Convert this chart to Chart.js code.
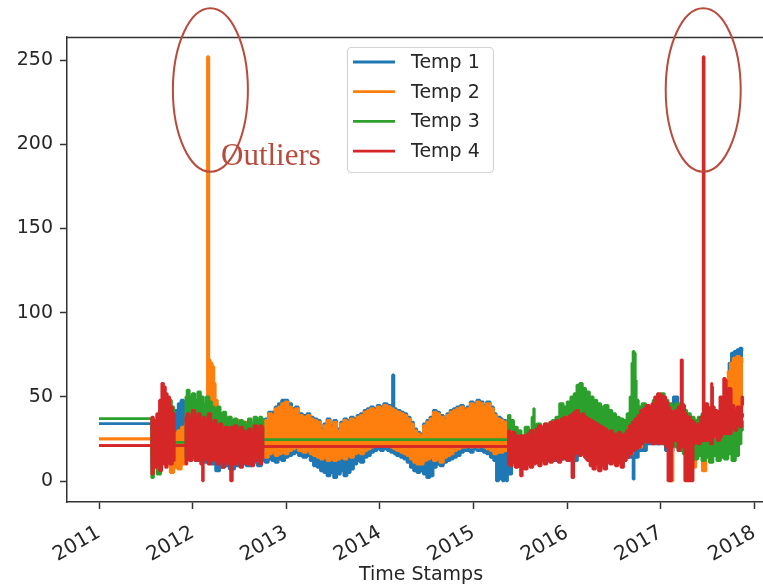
<!DOCTYPE html>
<html>
<head>
<meta charset="utf-8">
<style>
  * { margin: 0; padding: 0; box-sizing: border-box; }
  html, body { width: 763px; height: 587px; overflow: hidden; background: #fff; }
  .chartBox { width: 775px; height: 587px; }
</style>
</head>
<body>
<div class="chartBox"><canvas id="myChart" width="775" height="587"></canvas></div>

<script src="https://cdn.jsdelivr.net/npm/chart.js/dist/chart.umd.min.js"></script>
<script>
// setup
const seriesNames = ['Temp 1', 'Temp 2', 'Temp 3', 'Temp 4'];
const seriesColors = ['#1f77b4', '#ff7f0e', '#2ca02c', '#d62728'];
const yearTicks = [2011, 2012, 2013, 2014, 2015, 2016, 2017, 2018];
const valueTicks = [0, 50, 100, 150, 200, 250];
const outlierYears = [2012.19, 2017.455];

// each series: time (decimal year), upper and lower edge of the daily swing
const t1Years = [
  2011.00, 2011.56, 2011.565, 2011.62, 2011.68, 2011.74, 2011.80, 2011.83, 2011.86, 2011.89,
  2011.92, 2011.96, 2012.00, 2012.05, 2012.10, 2012.13, 2012.18, 2012.22, 2012.27, 2012.31,
  2012.36, 2012.42, 2012.48, 2012.54, 2012.60, 2012.66, 2012.72,
  2012.756, 2012.79, 2012.83, 2012.86, 2012.90, 2012.93, 2012.97, 2013.00, 2013.04, 2013.08,
  2013.11, 2013.15, 2013.20, 2013.24, 2013.27, 2013.31, 2013.35, 2013.38, 2013.42, 2013.45,
  2013.49, 2013.52, 2013.56, 2013.60, 2013.63, 2013.67, 2013.70, 2013.74, 2013.77, 2013.81,
  2013.85, 2013.88, 2013.92, 2013.95, 2013.99, 2014.02, 2014.06, 2014.10, 2014.13, 2014.14,
  2014.148, 2014.155, 2014.20, 2014.24, 2014.27, 2014.31, 2014.34, 2014.38, 2014.41, 2014.45,
  2014.48, 2014.52, 2014.55, 2014.59, 2014.62, 2014.66, 2014.70, 2014.73, 2014.77, 2014.80,
  2014.84, 2014.88, 2014.91, 2014.95, 2014.98, 2015.02, 2015.05, 2015.09, 2015.12, 2015.16,
  2015.20, 2015.23, 2015.26, 2015.28, 2015.30, 2015.32, 2015.34, 2015.36, 2015.37,
  2015.45, 2015.55, 2015.65, 2015.75, 2015.85, 2015.95, 2016.05, 2016.06, 2016.075, 2016.15,
  2016.25, 2016.35, 2016.45, 2016.55, 2016.65, 2016.70, 2016.71, 2016.725, 2016.80, 2016.90,
  2017.00, 2017.10, 2017.17, 2017.20, 2017.30, 2017.40, 2017.50, 2017.60, 2017.68, 2017.70,
  2017.72, 2017.74, 2017.77, 2017.80, 2017.83, 2017.86, 2017.88
];
const t1High = [
  34, 34, 30, 34, 36, 35, 38, 42, 46, 48,
  44, 40, 42, 40, 38, 40, 42, 38, 36, 35,
  34, 33, 34, 32, 33, 31, 30,
  34, 37, 41, 41, 44, 46, 48, 48, 46, 43,
  44, 40, 39, 40, 38, 37, 36, 31, 34, 37,
  33, 36, 31, 35, 37, 36, 38, 37, 39, 40,
  42, 43, 44, 43, 45, 44, 46, 45, 44, 63,
  63, 43, 42, 41, 40, 38, 35, 31, 29, 28,
  34, 36, 38, 42, 41, 39, 37, 40, 42, 43,
  44, 45, 43, 44, 47, 46, 48, 47, 45, 47,
  44, 40, 38, 38, 37, 36, 36, 35, 35,
  26, 25, 26, 29, 31, 33, 35, 35, 35, 36,
  33, 30, 28, 26, 28, 30, 30, 30, 38, 44,
  46, 42, 50, 42, 36, 35, 37, 39, 40, 42,
  60, 70, 76, 77, 78, 79, 77
];
const t1Low = [
  34, 34, 10, 12, 14, 12, 15, 18, 20, 17,
  15, 13, 14, 12, 13, 11, 12, 10, 6, 8,
  9, 7, 9, 10, 9, 11, 9,
  12, 11, 13, 12, 11, 13, 12, 14, 15, 16,
  17, 15, 14, 15, 12, 9, 8, 6, 5, 3,
  5, 2, 4, 6, 3, 5, 7, 10, 12, 11,
  14, 15, 17, 18, 19, 18, 19, 18, 17, 17,
  17, 16, 15, 14, 13, 11, 8, 6, 5, 6,
  4, 2, 3, 8, 10, 9, 11, 12, 13, 14,
  15, 17, 18, 18, 17, 19, 18, 18, 17, 16,
  14, 12, 0, 10, 1, 0, 1, 0, 4,
  11, 10, 11, 12, 12, 13, 12, 2, 12, 16,
  13, 11, 11, 11, 14, 14, 1, 14, 18, 22,
  22, 18, 22, 18, 16, 17, 17, 19, 17, 20,
  24, 30, 38, 42, 44, 45, 50
];

const t2Years = [
  2011.00, 2011.56, 2011.565, 2011.62, 2011.68, 2011.74, 2011.78, 2011.82, 2011.86, 2011.90,
  2011.94, 2011.98, 2012.02, 2012.06, 2012.10, 2012.14, 2012.155, 2012.16, 2012.17, 2012.178,
  2012.20, 2012.22, 2012.235, 2012.25, 2012.28, 2012.35, 2012.45, 2012.55, 2012.65, 2012.72,
  2012.756, 2012.79, 2012.83, 2012.86, 2012.90, 2012.93, 2012.97, 2013.00, 2013.04, 2013.08,
  2013.11, 2013.15, 2013.20, 2013.24, 2013.27, 2013.31, 2013.35, 2013.38, 2013.42, 2013.45,
  2013.49, 2013.52, 2013.56, 2013.60, 2013.63, 2013.67, 2013.70, 2013.74, 2013.77, 2013.81,
  2013.85, 2013.88, 2013.92, 2013.95, 2013.99, 2014.02, 2014.06, 2014.10, 2014.13, 2014.16,
  2014.20, 2014.24, 2014.27, 2014.31, 2014.34, 2014.38, 2014.41, 2014.45, 2014.48, 2014.52,
  2014.55, 2014.59, 2014.62, 2014.66, 2014.70, 2014.73, 2014.77, 2014.80, 2014.84, 2014.88,
  2014.91, 2014.95, 2014.98, 2015.02, 2015.05, 2015.09, 2015.12, 2015.16, 2015.20, 2015.23,
  2015.27, 2015.30, 2015.34, 2015.37,
  2015.45, 2015.55, 2015.65, 2015.75, 2015.85, 2015.95, 2016.05, 2016.15, 2016.25, 2016.35,
  2016.45, 2016.55, 2016.65, 2016.75, 2016.85, 2016.95, 2017.05, 2017.095, 2017.11, 2017.125,
  2017.14, 2017.20, 2017.30, 2017.37, 2017.38, 2017.44, 2017.45, 2017.52, 2017.60, 2017.68,
  2017.70, 2017.71, 2017.73, 2017.76, 2017.79, 2017.83, 2017.86, 2017.88
];
const t2High = [
  25, 25, 30, 34, 36, 32, 30, 28, 30, 32,
  34, 36, 38, 40, 42, 44, 46, 252, 252, 72,
  70, 68, 58, 48, 40, 38, 36, 35, 34, 33,
  33, 36, 40, 39, 43, 44, 46, 47, 44, 42,
  43, 39, 38, 39, 37, 36, 35, 30, 33, 36,
  32, 35, 30, 34, 36, 35, 37, 36, 38, 39,
  41, 42, 43, 42, 44, 43, 45, 44, 43, 42,
  41, 40, 39, 37, 34, 30, 28, 27, 33, 35,
  37, 41, 40, 38, 36, 39, 41, 42, 43, 44,
  42, 43, 46, 45, 47, 46, 44, 46, 43, 39,
  37, 36, 35, 34,
  26, 25, 26, 30, 32, 34, 36, 37, 34, 30,
  28, 26, 29, 35, 40, 44, 44, 40, 38, 36,
  36, 40, 36, 34, 35, 36, 36, 38, 40, 40,
  42, 55, 65, 70, 73, 74, 73, 70
];
const t2Low = [
  25, 25, 14, 12, 14, 10, 5, 8, 7, 10,
  14, 16, 18, 18, 18, 16, 16, 18, 18, 18,
  16, 16, 16, 14, 14, 14, 13, 14, 14, 15,
  16, 14, 16, 17, 15, 16, 17, 16, 18, 19,
  20, 18, 17, 18, 16, 15, 14, 13, 14, 12,
  13, 12, 13, 14, 13, 15, 14, 16, 17, 16,
  18, 19, 20, 21, 21, 21, 22, 21, 20, 19,
  18, 17, 16, 15, 13, 11, 10, 10, 12, 13,
  14, 12, 13, 11, 14, 15, 16, 18, 19, 20,
  20, 21, 20, 21, 20, 21, 20, 19, 18, 16,
  17, 17, 18, 18,
  13, 12, 13, 13, 14, 15, 17, 18, 15, 13,
  13, 12, 16, 20, 24, 24, 23, 20, 0, 0,
  22, 20, 18, 8, 18, 16, 6, 18, 20, 18,
  20, 24, 30, 38, 42, 44, 44, 45
];

const t3Years = [
  2011.00, 2011.56, 2011.565, 2011.60, 2011.64, 2011.68, 2011.72, 2011.76, 2011.79, 2011.81,
  2011.925, 2011.93, 2011.95, 2011.98, 2012.01, 2012.04, 2012.07, 2012.10, 2012.13, 2012.16,
  2012.19, 2012.22, 2012.25, 2012.28, 2012.31, 2012.34, 2012.37, 2012.40, 2012.43, 2012.46,
  2012.49, 2012.52, 2012.55, 2012.58, 2012.61, 2012.64, 2012.67, 2012.70, 2012.73, 2012.75,
  2012.755, 2015.37, 2015.375, 2015.41, 2015.45, 2015.49, 2015.53, 2015.57, 2015.61, 2015.64,
  2015.647, 2015.655, 2015.70, 2015.74, 2015.78, 2015.82, 2015.86, 2015.90, 2015.94, 2015.98,
  2016.02, 2016.06, 2016.09, 2016.12, 2016.15, 2016.18, 2016.22, 2016.26, 2016.30, 2016.34,
  2016.38, 2016.42, 2016.46, 2016.50, 2016.54, 2016.58, 2016.62, 2016.66, 2016.685, 2016.70,
  2016.71, 2016.725, 2016.735, 2016.745, 2016.78, 2016.82, 2016.86, 2016.90, 2016.94, 2016.98,
  2017.02, 2017.06, 2017.10, 2017.14, 2017.18, 2017.22, 2017.26, 2017.30, 2017.34, 2017.38,
  2017.42, 2017.46, 2017.50, 2017.54, 2017.58, 2017.62, 2017.66, 2017.70, 2017.74, 2017.78,
  2017.82, 2017.85, 2017.87, 2017.88
];
const t3High = [
  37, 37, 35, 30, 32, 34, 38, 48, 44, 23,
  23, 50, 54, 50, 52, 48, 53, 50, 46, 50,
  47, 44, 42, 44, 40, 41, 37, 38, 36, 37,
  34, 36, 35, 33, 37, 34, 38, 36, 38, 37,
  24.5, 24.5, 39, 36, 32, 30, 27, 32, 30, 38,
  43, 32, 34, 31, 34, 32, 36, 38, 46, 44,
  47, 50, 52, 57, 58, 55, 53, 50, 48, 46,
  44, 45, 42, 40, 38, 37, 36, 40, 50, 70,
  77, 76, 60, 48, 44, 46, 45, 43, 48, 50,
  52, 48, 46, 44, 46, 45, 42, 40, 38, 36,
  38, 40, 42, 40, 41, 40, 42, 40, 44, 42,
  40, 38, 40, 38
];
const t3Low = [
  37, 37, 2, 14, 4, 14, 12, 14, 18, 23,
  23, 14, 16, 18, 20, 16, 18, 16, 18, 16,
  18, 14, 16, 14, 16, 14, 15, 14, 16, 14,
  15, 14, 15, 14, 15, 14, 16, 15, 16, 18,
  24.5, 24.5, 14, 15, 14, 16, 14, 15, 14, 15,
  16, 15, 14, 15, 16, 15, 16, 17, 18, 17,
  18, 19, 20, 19, 18, 17, 16, 15, 14, 14,
  15, 14, 15, 16, 15, 16, 17, 18, 19, 20,
  20, 21, 21, 22, 22, 23, 24, 24, 23, 24,
  23, 22, 22, 21, 20, 18, 16, 15, 14, 13,
  15, 12, 14, 11, 15, 12, 14, 13, 16, 12,
  15, 22, 30, 36
];

const t4Years = [
  2011.00, 2011.56, 2011.565, 2011.60, 2011.63, 2011.66, 2011.68, 2011.70, 2011.72, 2011.74,
  2011.77, 2011.80, 2011.81, 2011.925, 2011.93, 2011.95, 2011.98, 2012.01, 2012.04, 2012.07,
  2012.10, 2012.11, 2012.12, 2012.15, 2012.18, 2012.21, 2012.24, 2012.27, 2012.30, 2012.33,
  2012.36, 2012.39, 2012.42, 2012.43, 2012.46, 2012.49, 2012.52, 2012.55, 2012.58, 2012.61,
  2012.64, 2012.67, 2012.70, 2012.73, 2012.75, 2012.755, 2015.37,
  2015.375, 2015.40, 2015.43, 2015.46, 2015.49, 2015.515, 2015.53, 2015.56, 2015.59, 2015.62,
  2015.65, 2015.68, 2015.71, 2015.74, 2015.77, 2015.80, 2015.83, 2015.86, 2015.89, 2015.92,
  2015.95, 2015.98, 2016.01, 2016.04, 2016.065, 2016.08, 2016.11, 2016.14, 2016.17, 2016.20,
  2016.23, 2016.26, 2016.29, 2016.32, 2016.35, 2016.38, 2016.41, 2016.44, 2016.47, 2016.50,
  2016.53, 2016.56, 2016.59, 2016.62, 2016.65, 2016.68, 2016.71, 2016.74, 2016.77, 2016.80,
  2016.83, 2016.86, 2016.89, 2016.92, 2016.95, 2016.98, 2017.01, 2017.04, 2017.07, 2017.085,
  2017.11, 2017.125, 2017.14, 2017.17, 2017.20, 2017.215, 2017.222, 2017.23, 2017.237, 2017.25,
  2017.265, 2017.30, 2017.34, 2017.355, 2017.38, 2017.41, 2017.44, 2017.452, 2017.456, 2017.463,
  2017.468, 2017.49, 2017.52, 2017.54, 2017.546, 2017.552, 2017.56, 2017.59, 2017.62, 2017.645,
  2017.66, 2017.685, 2017.695, 2017.71, 2017.74, 2017.77, 2017.80, 2017.83, 2017.86, 2017.875,
  2017.88
];
const t4High = [
  21, 21, 38, 36, 40, 48, 58, 56, 52, 50,
  44, 40, 21, 21, 38, 40, 36, 42, 38, 40,
  36, 34, 38, 36, 40, 34, 36, 32, 34, 30,
  32, 30, 32, 30, 33, 30, 32, 30, 28, 31,
  29, 33, 31, 33, 32, 20.5, 20.5,
  30, 28, 29, 27, 26, 27, 25, 27, 28, 30,
  27, 31, 33, 32, 34, 33, 35, 34, 36, 35,
  37, 38, 37, 39, 40, 41, 42, 39, 40, 38,
  37, 36, 35, 34, 33, 32, 31, 29, 30, 28,
  27, 29, 27, 28, 30, 33, 35, 37, 39, 42,
  43, 45, 44, 46, 50, 52, 51, 50, 47, 44,
  42, 41, 40, 42, 44, 44, 72, 72, 46, 45,
  40, 38, 36, 35, 33, 34, 38, 40, 252, 252,
  44, 46, 42, 44, 58, 56, 44, 42, 40, 50,
  42, 61, 60, 50, 55, 45, 42, 44, 40, 50,
  45
];
const t4Low = [
  21, 21, 4, 8, 10, 6, 12, 10, 8, 14,
  10, 12, 21, 21, 10, 14, 12, 16, 12, 14,
  10, 0, 12, 14, 10, 12, 14, 10, 12, 8,
  12, 10, 0, 12, 10, 12, 8, 11, 10, 13,
  9, 12, 14, 10, 14, 20.5, 20.5,
  10, 9, 12, 8, 10, 3, 9, 7, 10, 8,
  10, 11, 9, 12, 10, 13, 11, 12, 14, 11,
  13, 14, 12, 15, 2, 16, 18, 15, 17, 14,
  12, 9, 7, 10, 6, 9, 7, 12, 10, 13,
  9, 11, 8, 12, 14, 16, 18, 19, 20, 22,
  24, 23, 24, 22, 23, 22, 24, 22, 20, 0,
  0, 20, 26, 24, 18, 20, 22, 20, 22, 20,
  0, 0, 0, 22, 26, 22, 24, 26, 26, 24,
  26, 24, 26, 22, 24, 22, 26, 28, 24, 26,
  28, 30, 28, 30, 28, 32, 30, 34, 32, 38,
  40
];

const series = [
  { years: t1Years, high: t1High, low: t1Low },
  { years: t2Years, high: t2High, low: t2Low },
  { years: t3Years, high: t3High, low: t3Low },
  { years: t4Years, high: t4High, low: t4Low }
];

// every series is a band: upper edge filled down to lower edge, Temp 4 drawn on top
const datasets = [];
series.forEach((s, i) => {
  const color = seriesColors[i];
  const common = {
    borderColor: color,
    backgroundColor: color,
    borderWidth: 2.6,
    borderJoinStyle: 'bevel',
    pointRadius: 0,
    stepped: 'middle'
  };
  datasets.push(Object.assign({
    label: seriesNames[i],
    data: s.years.map((x, k) => ({ x: x, y: s.high[k] })),
    fill: '+1',
    order: 2 * (4 - i) - 1
  }, common));
  datasets.push(Object.assign({
    label: seriesNames[i] + ' low',
    data: s.years.map((x, k) => ({ x: x, y: s.low[k] })),
    fill: false,
    order: 2 * (4 - i)
  }, common));
});

const axisColor = '#333333';
const textColor = '#262626';
const noteColor = '#b84a3e';

// legend box, top spine, outlier rings and note
const overlay = {
  id: 'overlay',
  afterDraw(chart) {
    const { ctx, chartArea, scales } = chart;
    ctx.save();

    ctx.strokeStyle = axisColor;
    ctx.lineWidth = 1.5;
    ctx.beginPath();
    ctx.moveTo(chartArea.left, chartArea.top + 0.5);
    ctx.lineTo(chartArea.right, chartArea.top + 0.5);
    ctx.stroke();

    // legend
    const boxW = 146, boxH = 125;
    const boxX = Math.round((chartArea.left + chartArea.right) / 2 - boxW / 2) - 1;
    const boxY = chartArea.top + 10;
    ctx.beginPath();
    ctx.roundRect(boxX + 0.5, boxY + 0.5, boxW, boxH, 4);
    ctx.fillStyle = 'rgba(255,255,255,0.85)';
    ctx.fill();
    ctx.strokeStyle = '#d4d4d4';
    ctx.lineWidth = 1.2;
    ctx.stroke();
    ctx.font = '19px "DejaVu Sans"';
    ctx.textBaseline = 'middle';
    ctx.textAlign = 'left';
    seriesNames.forEach((name, i) => {
      const ry = boxY + 15 + i * 29.7;
      ctx.strokeStyle = seriesColors[i];
      ctx.lineWidth = 2.8;
      ctx.beginPath();
      ctx.moveTo(boxX + 6, ry);
      ctx.lineTo(boxX + 48, ry);
      ctx.stroke();
      ctx.fillStyle = textColor;
      ctx.fillText(name, boxX + 64, ry + 1);
    });

    // outlier rings
    ctx.strokeStyle = noteColor;
    ctx.lineWidth = 2;
    outlierYears.forEach(yr => {
      const cx = scales.x.getPixelForValue(yr);
      ctx.beginPath();
      ctx.ellipse(cx, 90, 37.5, 81.7, 0, 0, Math.PI * 2);
      ctx.stroke();
    });
    ctx.fillStyle = noteColor;
    ctx.font = '31px "Liberation Serif"';
    ctx.textBaseline = 'alphabetic';
    ctx.fillText('Outliers', 221, 165);

    ctx.restore();
  }
};

const config = {
  type: 'line',
  data: { datasets },
  options: {
    responsive: false,
    animation: false,
    events: [],
    layout: { padding: { top: 37, left: 0, right: 0, bottom: 0 } },
    plugins: {
      legend: { display: false },
      tooltip: { enabled: false }
    },
    scales: {
      x: {
        type: 'linear',
        min: 2010.658,
        max: 2018.222,
        afterBuildTicks: scale => { scale.ticks = yearTicks.map(v => ({ value: v })); },
        afterFit: scale => { scale.height = 85; scale.paddingLeft = 0; scale.paddingRight = 0; },
        grid: { drawOnChartArea: false, drawTicks: true, tickLength: 7, tickWidth: 1.5, tickColor: axisColor },
        border: { display: true, color: axisColor, width: 1.5 },
        ticks: {
          autoSkip: false, minRotation: 30, maxRotation: 30, padding: 12,
          color: textColor, font: { family: 'DejaVu Sans', size: 20 },
          callback: v => String(v)
        },
        title: {
          display: true, text: 'Time Stamps', color: textColor,
          font: { family: 'DejaVu Sans', size: 19 },
          padding: { top: 0, bottom: 1 }
        }
      },
      y: {
        type: 'linear',
        min: -12.47,
        max: 263.66,
        afterBuildTicks: scale => { scale.ticks = valueTicks.map(v => ({ value: v })); },
        afterFit: scale => { scale.width = 67; scale.paddingTop = 0; scale.paddingBottom = 0; },
        grid: { drawOnChartArea: false, drawTicks: true, tickLength: 7, tickWidth: 1.5, tickColor: axisColor },
        border: { display: true, color: axisColor, width: 1.5 },
        ticks: {
          padding: 7, color: textColor, font: { family: 'DejaVu Sans', size: 19 },
          callback: v => String(v)
        }
      }
    }
  },
  plugins: [overlay]
};

// render init block
const myChart = new Chart(document.getElementById('myChart'), config);
</script>
</body>
</html>
